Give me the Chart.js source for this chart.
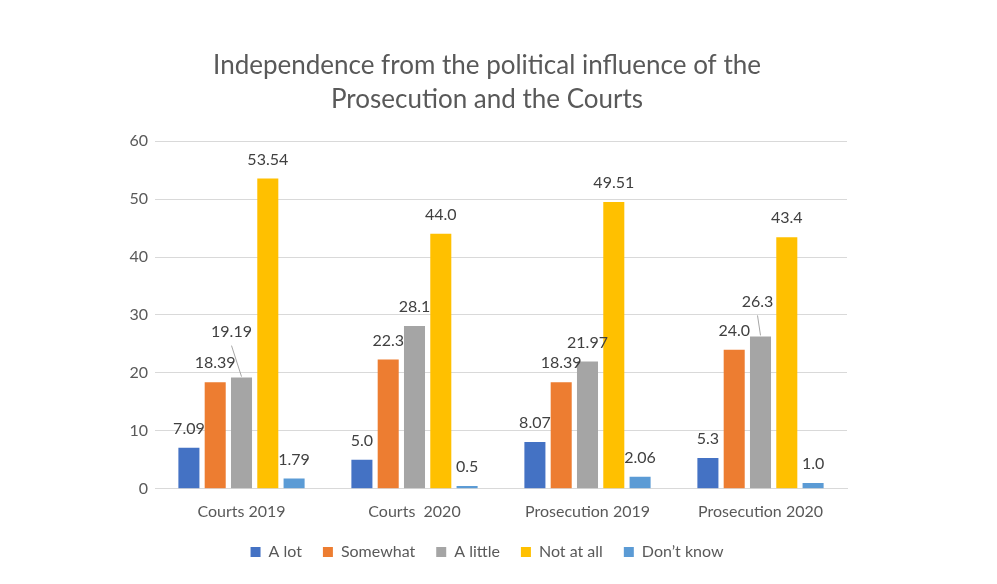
<!DOCTYPE html>
<html>
<head>
<meta charset="utf-8">
<script src="https://cdn.jsdelivr.net/npm/chart.js@4/dist/chart.umd.min.js"></script>
<style>
  html, body { margin: 0; padding: 0; background: #fff; }
  #wrap { width: 997px; height: 584px; }
</style>
</head>
<body>
<div id="wrap"><canvas id="chart" width="997" height="584"></canvas></div>
<script>
/* ── DATA ── */
var categories = ['Courts 2019', 'Courts  2020', 'Prosecution 2019', 'Prosecution 2020'];
var aLot      = [7.09, 5.0, 8.07, 5.3];
var somewhat  = [18.39, 22.3, 18.39, 24.0];
var aLittle   = [19.19, 28.1, 21.97, 26.3];
var notAtAll  = [53.54, 44.0, 49.51, 43.4];
var dontKnow  = [1.79, 0.5, 2.06, 1.0];
var labelDecimals = [2, 1, 2, 1];
var yTicks = [0, 10, 20, 30, 40, 50, 60];

/* ── STYLE ── */
var FONT = 'Lato, "Open Sans", sans-serif';
var TEXT = '#595959';
var GRID = '#d9d9d9';

// labels that Excel moved off the bar, with a leader line: 'category-dataset' -> [dx, dy]
var labelShift = { '0-2': [-10, -46], '3-2': [-3, -35] };

var barLabels = {
  id: 'barLabels',
  afterDatasetsDraw: function(chart) {
    var ctx = chart.ctx;
    ctx.save();
    ctx.font = '16px ' + FONT;
    ctx.textAlign = 'center';
    ctx.textBaseline = 'middle';
    chart.data.datasets.forEach(function(ds, di) {
      var meta = chart.getDatasetMeta(di);
      meta.data.forEach(function(bar, i) {
        var txt = ds.data[i].toFixed(labelDecimals[i]);
        var sh = labelShift[i + '-' + di];
        var lx = bar.x, ly = bar.y - 19;
        if (sh) {
          lx = bar.x + sh[0];
          ly = bar.y + sh[1];
          ctx.strokeStyle = '#a6a6a6';
          ctx.lineWidth = 1;
          ctx.beginPath();
          ctx.moveTo(lx, ly + 14);
          ctx.lineTo(bar.x, bar.y - 1);
          ctx.stroke();
        }
        ctx.fillStyle = '#404040';
        ctx.fillText(txt, lx, ly);
      });
    });
    ctx.restore();
  }
};

// pull the legend a little closer to the axis labels
var legendLift = {
  id: 'legendLift',
  afterLayout: function(chart) {
    if (!chart.legend) return;
    chart.legend.top -= 11;
    chart.legend.bottom -= 11;
  }
};

function makeSet(label, data, color) {
  return { label: label, data: data, backgroundColor: color, borderWidth: 0 };
}

new Chart(document.getElementById('chart'), {
  type: 'bar',
  data: {
    labels: categories,
    datasets: [
      makeSet('A lot', aLot, '#4472c4'),
      makeSet('Somewhat', somewhat, '#ed7d31'),
      makeSet('A little', aLittle, '#a5a5a5'),
      makeSet('Not at all', notAtAll, '#ffc000'),
      makeSet('Don\u2019t know', dontKnow, '#5b9bd5')
    ]
  },
  options: {
    responsive: false,
    animation: false,
    devicePixelRatio: 1,
    layout: { padding: { left: 127, right: 150, top: 41, bottom: 3 } },
    datasets: { bar: { categoryPercentage: 0.76, barPercentage: 0.8 } },
    plugins: {
      title: {
        display: true,
        text: ['Independence from the political influence of the', 'Prosecution and the Courts'],
        color: TEXT,
        font: { family: FONT, size: 26, weight: 'normal', lineHeight: 1.31 },
        padding: { top: 8, bottom: 24 }
      },
      legend: {
        position: 'bottom',
        maxHeight: 63,
        labels: {
          color: TEXT,
          font: { family: FONT, size: 16 },
          boxWidth: 10,
          boxHeight: 10,
          padding: 21
        }
      },
      tooltip: { enabled: false }
    },
    scales: {
      x: {
        grid: { display: false, drawTicks: false },
        border: { color: GRID },
        ticks: { color: TEXT, font: { family: FONT, size: 16 }, padding: 13 }
      },
      y: {
        min: yTicks[0],
        max: yTicks[yTicks.length - 1],
        afterBuildTicks: function(scale) {
          scale.ticks = yTicks.map(function(v) { return { value: v }; });
        },
        afterFit: function(scale) { scale.width = 28; },
        grid: { color: GRID, drawTicks: false },
        border: { display: false },
        ticks: { color: TEXT, font: { family: FONT, size: 16 }, padding: 7 }
      }
    }
  },
  plugins: [barLabels, legendLift]
});
</script>
</body>
</html>
